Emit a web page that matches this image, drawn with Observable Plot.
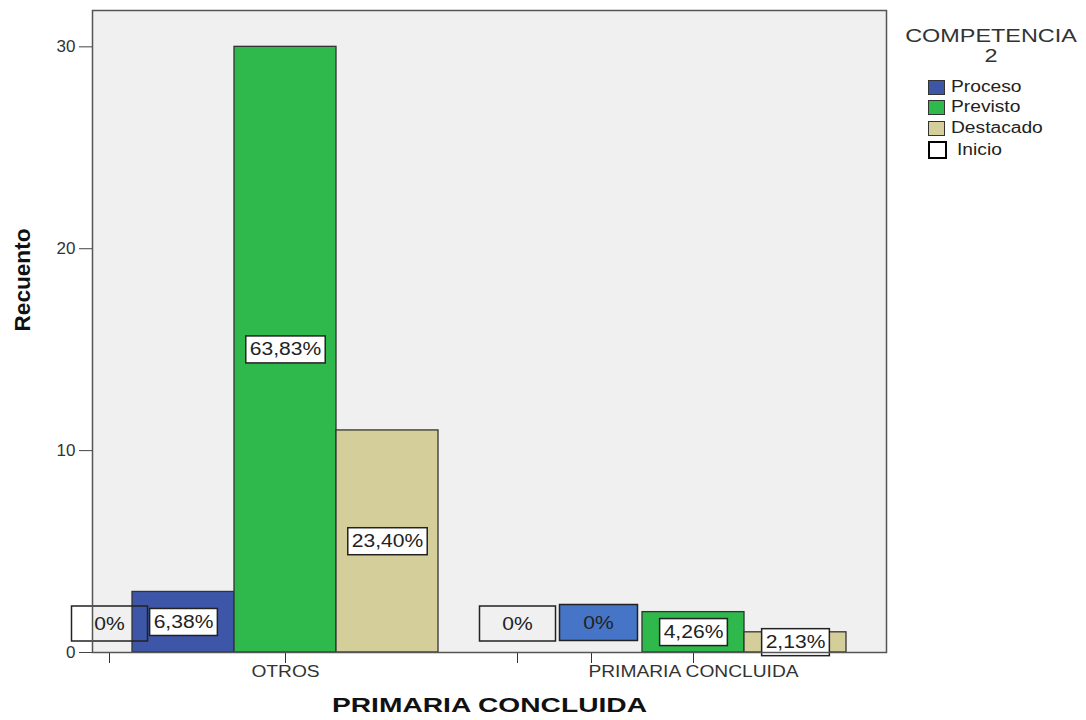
<!DOCTYPE html>
<html><head><meta charset="utf-8">
<script src="https://cdn.jsdelivr.net/npm/d3@7"></script>
<script src="https://cdn.jsdelivr.net/npm/@observablehq/plot@0.6"></script>
<style>
body{margin:0;background:#fff;font-family:"Liberation Sans",Arial,sans-serif;}
#wrap{position:relative;width:1086px;height:720px;overflow:hidden;}
#legend{position:absolute;left:0;top:0;width:1086px;height:720px;pointer-events:none;color:#222;}
.lt{position:absolute;font-size:18px;color:#333;transform:translate(-50%,-50%) scaleX(1.3);white-space:nowrap;line-height:1;}
.sw{position:absolute;box-sizing:border-box;border:1px solid #333;}
.ll{position:absolute;font-size:16px;transform-origin:left center;transform:translateY(-50%) scaleX(1.2);white-space:nowrap;line-height:1;}
</style>
</head><body>
<div id="wrap"><div id="chart"></div><div id="legend"></div></div>
<script>
const groups = ["OTROS", "PRIMARIA CONCLUIDA"];
const series = ["Inicio", "Proceso", "Previsto", "Destacado"];
const legendOrder = ["Proceso", "Previsto", "Destacado", "Inicio"];
const countsOtros = [0, 3, 30, 11];
const countsPrimaria = [0, 0, 2, 1];
const pctOtros = ["0%", "6,38%", "63,83%", "23,40%"];
const pctPrimaria = ["0%", "0%", "4,26%", "2,13%"];
const seriesColors = ["#ffffff", "#3d56a8", "#2fb84b", "#d4cf9a"];
const yTicks = [0, 10, 20, 30];
const legendTitle = ["COMPETENCIA", "2"];
const xTitle = "PRIMARIA CONCLUIDA";
const yTitle = "Recuento";

const rows = [];
groups.forEach((g, gi) => series.forEach((s, si) => rows.push({
  group: g, series: s,
  count: gi ? countsPrimaria[si] : countsOtros[si],
  pct: gi ? pctPrimaria[si] : pctOtros[si],
  slot: g + "|" + s
})));
const slots = rows.map(d => d.slot);
const bars = rows.filter(d => d.count > 0);
const zeroInicio = rows.filter(d => d.count === 0 && d.series === "Inicio");
const zeroOther = rows.filter(d => d.count === 0 && d.series !== "Inicio");
const labeledTicks = [groups[0] + "|Previsto", groups[1] + "|Proceso", groups[1] + "|Previsto"];
const tickLabel = s => s.endsWith("|Previsto") ? s.split("|")[0] : "";

const plot = Plot.plot({
  width: 1086, height: 720,
  marginLeft: 92, marginRight: 200, marginTop: 10, marginBottom: 68,
  style: {fontFamily: '"Liberation Sans", Arial, sans-serif', color: "#333", background: "#fff"},
  x: {type: "band", domain: slots, range: [28, 847], padding: 0, axis: null},
  y: {domain: [0, 31.8], axis: null},
  color: {domain: series, range: seriesColors},
  marks: [
    Plot.frame({fill: "#f0f0f0"}),
    Plot.barY(bars, {x: "slot", y: "count", fill: "series", stroke: "#333", strokeWidth: 1.3}),
    Plot.text(zeroInicio, {x: "slot", text: "pct", frameAnchor: "bottom", dy: -23, dx: 28, fontSize: 18, fill: "#222", ariaDescription: "zero-inicio"}),
    Plot.text(zeroOther, {x: "slot", text: "pct", frameAnchor: "bottom", dy: -24, dx: 7, fontSize: 18, fill: "#222", ariaDescription: "zero-other"}),
    Plot.text(bars, {x: "slot", y: d => d.count / 2, text: "pct", fontSize: 18, fill: "#222", ariaDescription: "pct"}),
    Plot.axisY(yTicks, {tickSize: 13, tickPadding: 4, fontSize: 17, label: null, stroke: "#444"}),
    Plot.axisX(labeledTicks, {tickSize: 11, tickPadding: 2, fontSize: 16, label: null, tickFormat: tickLabel, ariaDescription: "xticks", stroke: "#333"}),
    Plot.axisX(zeroInicio.map(d => d.slot), {tickSize: 11, dx: 28, label: null, tickFormat: () => "", stroke: "#333"}),
    Plot.text([xTitle], {frameAnchor: "bottom", dy: 59, fontSize: 21, fontWeight: "bold", fill: "#111", ariaDescription: "xtitle"}),
    Plot.text([yTitle], {frameAnchor: "left", dx: -70, rotate: -90, fontSize: 22, fontWeight: "bold", fill: "#111", ariaDescription: "ytitle"}),
    Plot.frame({stroke: "#555", strokeWidth: 1.5})
  ]
});
document.getElementById("chart").appendChild(plot);

const ns = "http://www.w3.org/2000/svg";
function texts(label) {
  return plot.querySelectorAll(`g[aria-description="${label}"] text`);
}
function stretch(label, factor, fixed) {
  texts(label).forEach(t => {
    const w = fixed || t.getComputedTextLength() * factor;
    t.setAttribute("textLength", w);
    t.setAttribute("lengthAdjust", "spacingAndGlyphs");
  });
}
function boxes(label, opts) {
  texts(label).forEach(t => {
    const b = t.getBBox();
    const w = opts.w || b.width + 2 * opts.px;
    const h = opts.h || b.height + 2 * opts.py;
    const cx = b.x + b.width / 2, cy = b.y + b.height / 2;
    const r = document.createElementNS(ns, "rect");
    r.setAttribute("x", cx - w / 2); r.setAttribute("y", cy - h / 2);
    r.setAttribute("width", w); r.setAttribute("height", h);
    r.setAttribute("fill", opts.fill); r.setAttribute("stroke", "#222");
    r.setAttribute("stroke-width", 1.5);
    const tr = t.getAttribute("transform"); if (tr) r.setAttribute("transform", tr);
    t.parentNode.insertBefore(r, t);
  });
}
stretch("pct", 1.17); stretch("zero-inicio", 1.17); stretch("zero-other", 1.17);
stretch("xticks", 1.2);
stretch("xtitle", 1, 315);
stretch("ytitle", 1, 103);
boxes("pct", {px: 4, py: 3.5, fill: "#fff"});
boxes("zero-inicio", {w: 76, h: 35, fill: "none"});
boxes("zero-other", {w: 78, h: 36, fill: "#4674c6"});

// legend
const lg = document.getElementById("legend");
const t1 = document.createElement("div"); t1.className = "lt"; t1.textContent = legendTitle[0];
t1.style.left = "991px"; t1.style.top = "36px"; lg.appendChild(t1);
const t2 = document.createElement("div"); t2.className = "lt"; t2.textContent = legendTitle[1];
t2.style.left = "991px"; t2.style.top = "56px"; lg.appendChild(t2);
const rowY = [87, 107, 128, 150];
legendOrder.forEach((s, i) => {
  const sw = document.createElement("div"); sw.className = "sw";
  const isIni = s === "Inicio";
  const w = isIni ? 19 : 17, h = isIni ? 18 : 15;
  sw.style.left = "928px"; sw.style.top = (rowY[i] - h / 2) + "px";
  sw.style.width = w + "px"; sw.style.height = h + "px";
  sw.style.background = seriesColors[series.indexOf(s)];
  if (isIni) sw.style.border = "2.5px solid #000";
  lg.appendChild(sw);
  const l = document.createElement("div"); l.className = "ll"; l.textContent = s;
  l.style.left = (isIni ? 957 : 951) + "px"; l.style.top = rowY[i] + "px";
  lg.appendChild(l);
});
</script>
</body></html>
